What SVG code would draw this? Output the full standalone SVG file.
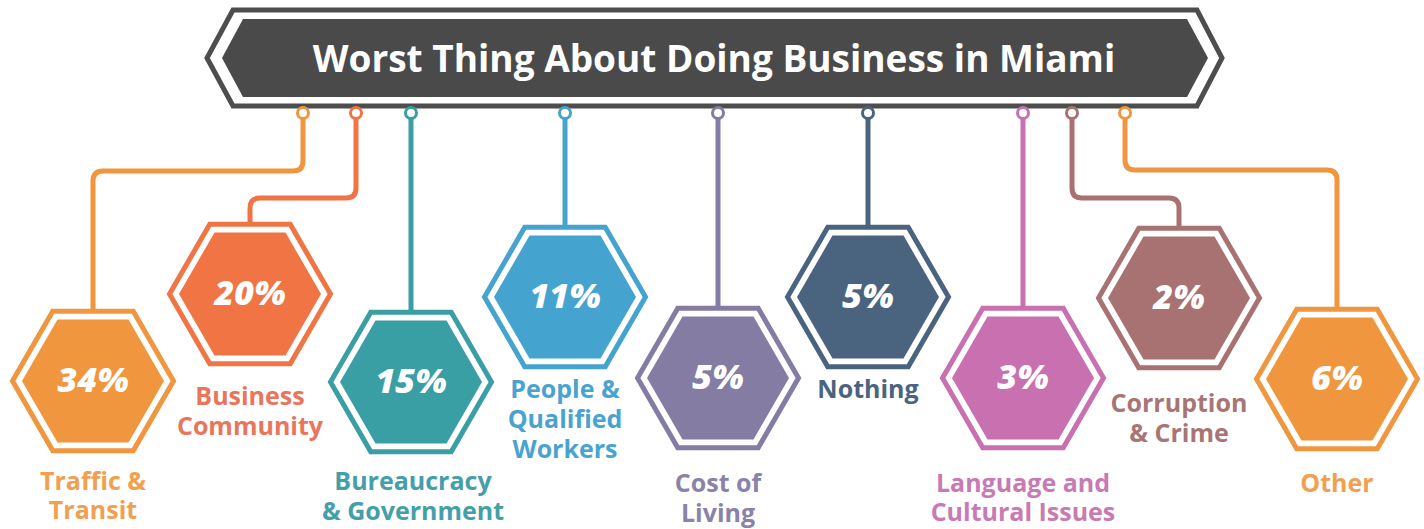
<svg xmlns="http://www.w3.org/2000/svg" xmlns:xlink="http://www.w3.org/1999/xlink" width="1424" height="529" viewBox="0 0 1424 529">
<defs>
<style>
.lbl{font-family:"Open Sans","Liberation Sans",sans-serif;font-weight:700;font-size:25px;text-anchor:middle}
.pct{font-family:"Open Sans","Liberation Sans",sans-serif;font-weight:800;font-style:italic;font-size:34px;fill:#fff;text-anchor:middle}
.conn{fill:none;stroke-width:5;stroke-linejoin:round}
.pin{fill:#fff;stroke-width:3}
.ho{fill:#fff;stroke-width:5}
</style>
<polygon id="hexO" points="-80.5,0 -40.25,-69.71 40.25,-69.71 80.5,0 40.25,69.71 -40.25,69.71"/>
<polygon id="hexI" points="-71,0 -35.5,-61.49 35.5,-61.49 71,0 35.5,61.49 -35.5,61.49"/>
</defs>
<rect width="1424" height="529" fill="#fff"/>
<g id="banner">
<polygon points="233,10 1197,10 1222,58 1197,106 233,106 207,58" fill="#fff" stroke="#4d4d4d" stroke-width="5"/>
<polygon points="243,19 1187,19 1208,58 1187,97 243,97 222,58" fill="#4a4a4a"/>
<text x="714" y="72" font-family="'Open Sans','Liberation Sans',sans-serif" font-weight="700" font-size="37" fill="#fff" text-anchor="middle">Worst Thing About Doing Business in Miami</text>
</g>
<g id="connectors">
<path class="conn" stroke="#f0963f" d="M303,118 V161 Q303,171 293,171 H103 Q93,171 93,181 V310"/>
<path class="conn" stroke="#f07444" d="M356,118 V188 Q356,198 346,198 H260 Q250,198 250,208 V223"/>
<path class="conn" stroke="#3a9ea5" d="M411,118 V311"/>
<path class="conn" stroke="#45a3cf" d="M565,118 V226"/>
<path class="conn" stroke="#857ca3" d="M718,118 V307"/>
<path class="conn" stroke="#4a6480" d="M868,118 V226"/>
<path class="conn" stroke="#c870b0" d="M1023,118 V307"/>
<path class="conn" stroke="#a87272" d="M1072,118 V188 Q1072,198 1082,198 H1169 Q1179,198 1179,208 V227"/>
<path class="conn" stroke="#f0963f" d="M1125,118 V160 Q1125,170 1135,170 H1327 Q1337,170 1337,180 V308"/>
<circle class="pin" cx="303" cy="113" r="5.5" stroke="#f0963f"/>
<circle class="pin" cx="356" cy="113" r="5.5" stroke="#f07444"/>
<circle class="pin" cx="411" cy="113" r="5.5" stroke="#3a9ea5"/>
<circle class="pin" cx="565" cy="113" r="5.5" stroke="#45a3cf"/>
<circle class="pin" cx="718" cy="113" r="5.5" stroke="#857ca3"/>
<circle class="pin" cx="868" cy="113" r="5.5" stroke="#4a6480"/>
<circle class="pin" cx="1023" cy="113" r="5.5" stroke="#c870b0"/>
<circle class="pin" cx="1072" cy="113" r="5.5" stroke="#a87272"/>
<circle class="pin" cx="1125" cy="113" r="5.5" stroke="#f0963f"/>
</g>
<g id="node-traffic">
<use xlink:href="#hexO" href="#hexO" x="93" y="381" class="ho" stroke="#f0963f"/>
<use xlink:href="#hexI" href="#hexI" x="93" y="381" fill="#f0963f"/>
<text class="pct" x="93" y="392">34%</text>
<text class="lbl" fill="#f0a050" x="93" y="490">Traffic &amp;</text>
<text class="lbl" fill="#f0a050" x="93" y="519">Transit</text>
</g>
<g id="node-business">
<use xlink:href="#hexO" href="#hexO" x="250" y="294" class="ho" stroke="#f07444"/>
<use xlink:href="#hexI" href="#hexI" x="250" y="294" fill="#f07444"/>
<text class="pct" x="250" y="305">20%</text>
<text class="lbl" fill="#e8755c" x="250" y="405">Business</text>
<text class="lbl" fill="#e8755c" x="250" y="435">Community</text>
</g>
<g id="node-bureaucracy">
<use xlink:href="#hexO" href="#hexO" x="411" y="382" class="ho" stroke="#3a9ea5"/>
<use xlink:href="#hexI" href="#hexI" x="411" y="382" fill="#3a9ea5"/>
<text class="pct" x="411" y="393">15%</text>
<text class="lbl" fill="#44a0a8" x="413" y="490">Bureaucracy</text>
<text class="lbl" fill="#44a0a8" x="413" y="520">&amp; Government</text>
</g>
<g id="node-people">
<use xlink:href="#hexO" href="#hexO" x="565" y="297" class="ho" stroke="#45a3cf"/>
<use xlink:href="#hexI" href="#hexI" x="565" y="297" fill="#45a3cf"/>
<text class="pct" x="565" y="308">11%</text>
<text class="lbl" fill="#4aa3cf" x="565" y="398">People &amp;</text>
<text class="lbl" fill="#4aa3cf" x="565" y="428">Qualified</text>
<text class="lbl" fill="#4aa3cf" x="565" y="458">Workers</text>
</g>
<g id="node-cost">
<use xlink:href="#hexO" href="#hexO" x="718" y="378" class="ho" stroke="#857ca3"/>
<use xlink:href="#hexI" href="#hexI" x="718" y="378" fill="#857ca3"/>
<text class="pct" x="718" y="389">5%</text>
<text class="lbl" fill="#8a82a8" x="718" y="492">Cost of</text>
<text class="lbl" fill="#8a82a8" x="718" y="522">Living</text>
</g>
<g id="node-nothing">
<use xlink:href="#hexO" href="#hexO" x="868" y="297" class="ho" stroke="#4a6480"/>
<use xlink:href="#hexI" href="#hexI" x="868" y="297" fill="#4a6480"/>
<text class="pct" x="868" y="308">5%</text>
<text class="lbl" fill="#4a6480" x="868" y="398">Nothing</text>
</g>
<g id="node-language">
<use xlink:href="#hexO" href="#hexO" x="1023" y="378" class="ho" stroke="#c870b0"/>
<use xlink:href="#hexI" href="#hexI" x="1023" y="378" fill="#c870b0"/>
<text class="pct" x="1023" y="389">3%</text>
<text class="lbl" fill="#c87ab5" x="1023" y="492">Language and</text>
<text class="lbl" fill="#c87ab5" x="1023" y="521">Cultural Issues</text>
</g>
<g id="node-corruption">
<use xlink:href="#hexO" href="#hexO" x="1179" y="298" class="ho" stroke="#a87272"/>
<use xlink:href="#hexI" href="#hexI" x="1179" y="298" fill="#a87272"/>
<text class="pct" x="1179" y="309">2%</text>
<text class="lbl" fill="#a87575" x="1179" y="412">Corruption</text>
<text class="lbl" fill="#a87575" x="1179" y="442">&amp; Crime</text>
</g>
<g id="node-other">
<use xlink:href="#hexO" href="#hexO" x="1337" y="379" class="ho" stroke="#f0963f"/>
<use xlink:href="#hexI" href="#hexI" x="1337" y="379" fill="#f0963f"/>
<text class="pct" x="1337" y="390">6%</text>
<text class="lbl" fill="#f0a050" x="1337" y="492">Other</text>
</g>
</svg>
